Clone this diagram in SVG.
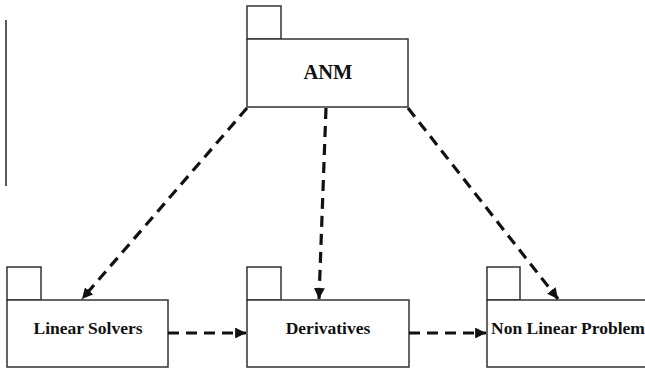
<svg xmlns="http://www.w3.org/2000/svg" width="645" height="372" viewBox="0 0 645 372">
<style>
.box{fill:#fff;stroke:#333;stroke-width:1.5}
.lbl{font-family:"Liberation Serif","Times New Roman",serif;font-weight:bold;font-size:17.5px;fill:#111}
.big{font-size:20.5px}
.dep{stroke:#111;stroke-width:3.2;stroke-dasharray:11,7;fill:none}
</style>
<defs>
<marker id="ah" viewBox="0 0 10 10" refX="10" refY="5" markerWidth="3.4" markerHeight="3.4" orient="auto" markerUnits="strokeWidth">
<path d="M0,0 L10,5 L0,10 z" fill="#111"/>
</marker>
</defs>
<rect width="645" height="372" fill="#fff"/>
<line x1="6" y1="20" x2="6" y2="186" stroke="#222" stroke-width="1.5"/>
<g id="anm">
<rect class="box" x="247" y="6" width="34" height="33"/>
<rect class="box" x="247" y="39" width="161" height="68"/>
<text class="lbl big" x="328" y="79" text-anchor="middle">ANM</text>
</g>
<g id="linear-solvers">
<rect class="box" x="7" y="267" width="34" height="33"/>
<rect class="box" x="7" y="300" width="161" height="67"/>
<text class="lbl" x="88" y="334" text-anchor="middle">Linear Solvers</text>
</g>
<g id="derivatives">
<rect class="box" x="247" y="267" width="34" height="33"/>
<rect class="box" x="247" y="300" width="162" height="67"/>
<text class="lbl" x="328" y="334" text-anchor="middle">Derivatives</text>
</g>
<g id="non-linear-problem">
<rect class="box" x="487" y="267" width="33" height="33"/>
<rect class="box" x="487" y="300" width="170" height="67"/>
<text class="lbl" x="491" y="334">Non Linear Problem</text>
</g>
<g id="connectors">
<line class="dep" x1="247" y1="108" x2="82" y2="299" marker-end="url(#ah)"/>
<line class="dep" x1="326" y1="108" x2="319" y2="299" marker-end="url(#ah)"/>
<line class="dep" x1="408" y1="108" x2="558" y2="299" marker-end="url(#ah)"/>
<line class="dep" x1="168" y1="333" x2="246" y2="333" marker-end="url(#ah)"/>
<line class="dep" x1="409" y1="333" x2="486" y2="333" marker-end="url(#ah)"/>
</g>
</svg>
